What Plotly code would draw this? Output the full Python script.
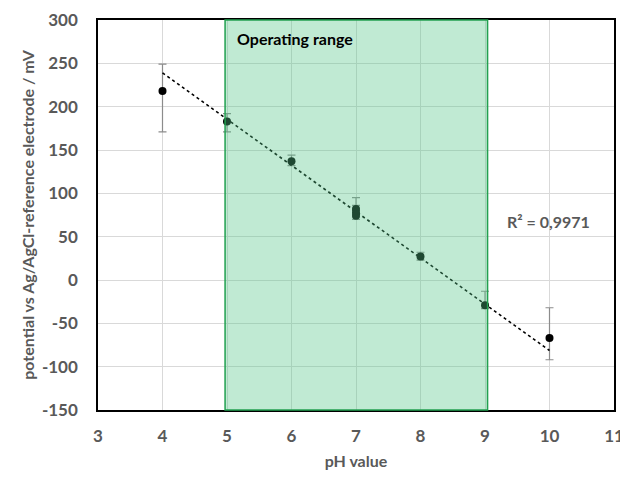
import numpy as np
import plotly.graph_objects as go

# Data
ph = [4, 5, 6, 7, 7, 7, 8, 9, 10]
potential = [218, 183, 137, 82, 78, 74, 27, -29, -67]
err_plus = [31, 9, 7, 13, 8, 6, 5, 16, 35]
err_minus = [47, 12, 5, 6, 5, 4, 4, 4, 25]

operating_range = [4.97, 9.04]
fit_ph_min, fit_ph_max = 5, 9
trend_x_range = [4, 10]
r2_label = "R² = 0,9971"
range_label = "Operating range"

x_ticks = [3, 4, 5, 6, 7, 8, 9, 10, 11]
y_ticks = [-150, -100, -50, 0, 50, 100, 150, 200, 250, 300]

# linear trendline fitted to the operating-range data
sel = [(x, y) for x, y in zip(ph, potential) if fit_ph_min <= x <= fit_ph_max]
slope, intercept = np.polyfit([s[0] for s in sel], [s[1] for s in sel], 1)
tx = np.array(trend_x_range, dtype=float)
ty = slope * tx + intercept

GREY = "#595959"
FONT = "Lato"

fig = go.Figure()
fig.add_trace(go.Scatter(
    x=ph, y=potential, mode="markers",
    marker=dict(color="black", size=8),
    error_y=dict(type="data", symmetric=False, array=err_plus, arrayminus=err_minus,
                 color="#8c8c8c", thickness=1.2, width=4),
    showlegend=False,
))
fig.add_trace(go.Scatter(
    x=tx, y=ty, mode="lines",
    line=dict(color="black", width=1.6, dash="dot"),
    showlegend=False,
))

fig.add_shape(type="rect", xref="x", yref="paper",
              x0=operating_range[0], x1=operating_range[1], y0=0, y1=1,
              fillcolor="rgba(85,198,136,0.37)",
              line=dict(color="#22a050", width=1.5), layer="above")

fig.add_annotation(x=operating_range[0] + 0.15, y=279, xref="x", yref="y",
                   text="<b>" + range_label + "</b>", showarrow=False,
                   xanchor="left", yanchor="middle",
                   font=dict(family=FONT, size=16, color="black"))
fig.add_annotation(x=9.98, y=67, xref="x", yref="y",
                   text="<b>" + r2_label + "</b>", showarrow=False,
                   xanchor="center", yanchor="middle",
                   font=dict(family=FONT, size=16, color=GREY))

axis_common = dict(
    showgrid=True, gridcolor="#d9d9d9", gridwidth=1.3,
    showline=True, linecolor="black", linewidth=1.5, mirror=True,
    zeroline=False, ticks="", automargin=False, ticklabeloverflow="allow",
    tickfont=dict(family=FONT, size=17, color=GREY, weight="bold"),
)

fig.update_xaxes(range=[3, 11], tickvals=x_ticks, ticktext=[str(v) for v in x_ticks],
                 ticklabelstandoff=10,
                 title=dict(text="<b>pH value</b>", font=dict(family=FONT, size=16, color=GREY), standoff=18),
                 **axis_common)
fig.update_yaxes(range=[-150, 300], tickvals=y_ticks, ticktext=[str(v) for v in y_ticks],
                 ticklabelstandoff=15,
                 title=dict(text="<b>potential vs Ag/AgCl-reference electrode / mV</b>",
                            font=dict(family=FONT, size=16, color=GREY), standoff=3),
                 **axis_common)

# the page body adds an 8px offset, so the figure is sized to fit the window
fig.update_layout(
    width=620, height=462,
    margin=dict(l=90, r=14, t=12, b=60),
    plot_bgcolor="white", paper_bgcolor="white",
)

fig.write_html("out.html")
